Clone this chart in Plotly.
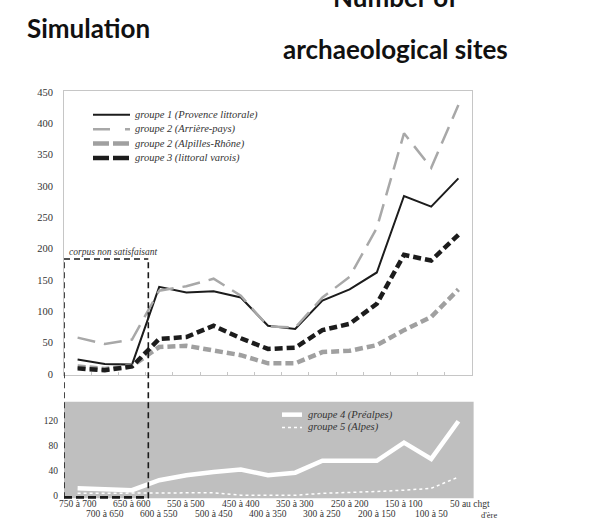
import plotly.graph_objects as go

# Periods (BC), from 750 BC down to the change of era
categories = ["750 à 700", "700 à 650", "650 à 600", "600 à 550", "550 à 500",
              "500 à 450", "450 à 400", "400 à 350", "350 à 300", "300 à 250",
              "250 à 200", "200 à 150", "150 à 100", "100 à 50", "50 au chgt d'ère"]

# Upper panel series
g1_provence = [23, 16, 15, 139, 130, 132, 122, 77, 72, 117, 135, 162, 284, 267, 312]
g2_arriere = [58, 48, 55, 133, 140, 152, 125, 76, 74, 122, 155, 233, 384, 329, 429]
g2_alpilles = [12, 8, 13, 43, 45, 38, 30, 17, 17, 35, 37, 46, 70, 91, 135]
g3_varois = [9, 6, 12, 56, 59, 77, 57, 40, 42, 70, 80, 112, 190, 181, 222]

# Lower panel series
g4_prealpes = [12, 10, 9, 25, 33, 38, 42, 33, 37, 56, 56, 56, 85, 59, 119]
g5_alpes = [4, 4, 4, 5, 5, 5, 1, 1, 1, 4, 5, 7, 9, 12, 30]

upper_ticks = [0, 50, 100, 150, 200, 250, 300, 350, 400, 450]
lower_ticks = [0, 40, 80, 120]

W, H = 602, 526
SERIF = "Liberation Serif"
TXT = "#333333"


def px(x):
    return x / W


def py(y):
    return 1 - y / H


xi = list(range(len(categories)))

upper_styles = [
    ("groupe 1 (Provence littorale)", g1_provence, "#1c1c1c", 2.0, "solid", "solid"),
    ("groupe 2 (Arrière-pays)", g2_arriere, "#a8a8a8", 2.5, "18px,9px", "17px,15px"),
    ("groupe 2 (Alpilles-Rhône)", g2_alpilles, "#a0a0a0", 4.5, "8px,4px", "16px,4px"),
    ("groupe 3 (littoral varois)", g3_varois, "#1c1c1c", 4.5, "8px,4px", "16px,4px"),
]
lower_styles = [
    ("groupe 4 (Préalpes)", g4_prealpes, "white", 4.5, "solid", "solid"),
    ("groupe 5 (Alpes)", g5_alpes, "white", 1.5, "3px,3px", "3px,3px"),
]

fig = go.Figure()
for name, vals, col, w, dash, _ in upper_styles:
    fig.add_trace(go.Scatter(x=xi, y=vals, mode="lines", name=name,
                             line=dict(color=col, width=w, dash=dash),
                             xaxis="x", yaxis="y", showlegend=False))
for name, vals, col, w, dash, _ in lower_styles:
    fig.add_trace(go.Scatter(x=xi, y=vals, mode="lines", name=name,
                             line=dict(color=col, width=w, dash=dash),
                             xaxis="x2", yaxis="y2", showlegend=False))

shapes = []
annotations = []

# Grey background of the lower panel
shapes.append(dict(type="rect", xref="x2 domain", yref="y2 domain",
                   x0=0, x1=1.004, y0=0, y1=1, fillcolor="#bfbfbf",
                   line=dict(width=0), layer="below"))

# "corpus non satisfaisant" dashed frame across both panels
box_left, box_right = -0.5, 2.6
box_top, box_bottom = py(259), py(502)
dash_box = dict(color="#1a1a1a", width=1.6, dash="6px,4px")
shapes += [
    dict(type="line", xref="x", yref="paper", x0=box_left, x1=box_left,
         y0=box_bottom, y1=box_top, line=dash_box),
    dict(type="line", xref="x", yref="paper", x0=box_right, x1=box_right,
         y0=box_bottom, y1=box_top, line=dash_box),
    dict(type="line", xref="x", yref="paper", x0=box_left, x1=box_right,
         y0=box_top, y1=box_top, line=dash_box),
    dict(type="line", xref="x", yref="paper", x0=box_left, x1=box_right,
         y0=py(501), y1=py(501), line=dict(color="#1a1a1a", width=2.6, dash="8px,4px")),
]
annotations.append(dict(text="corpus non satisfaisant", xref="paper", yref="paper",
                        x=px(67), y=py(252), xanchor="left", yanchor="middle",
                        showarrow=False,
                        font=dict(family=SERIF, size=9.5, color=TXT, style="italic")))

# Legend of the upper panel
for k, (name, _, col, w, _, ldash) in enumerate(upper_styles):
    yy = py(112.5 + 14.6 * k)
    shapes.append(dict(type="line", xref="paper", yref="paper",
                       x0=px(93), x1=px(130), y0=yy, y1=yy,
                       line=dict(color=col, width=w, dash=ldash)))
    annotations.append(dict(text=name, xref="paper", yref="paper", x=px(133), y=yy,
                            xanchor="left", yanchor="middle", showarrow=False,
                            font=dict(family=SERIF, size=10.5, color=TXT, style="italic")))

# Legend of the lower panel
for k, (name, _, col, w, _, ldash) in enumerate(lower_styles):
    yy = py(417 + 13 * k)
    shapes.append(dict(type="line", xref="paper", yref="paper",
                       x0=px(282), x1=px(302), y0=yy, y1=yy,
                       line=dict(color=col, width=w, dash=ldash)))
    annotations.append(dict(text=name, xref="paper", yref="paper", x=px(306), y=yy,
                            xanchor="left", yanchor="middle", showarrow=False,
                            font=dict(family=SERIF, size=10.5, color="#333333", style="italic")))

# Staggered period labels under the lower panel
for i, lab in enumerate(categories):
    row_y = py(508) if i % 2 == 0 else py(518)
    if i == len(categories) - 1:
        main, sub = lab.rsplit(" ", 1)
        annotations.append(dict(text=main, xref="x2", yref="paper", x=i, y=row_y,
                                xanchor="left", xshift=-10, yanchor="middle", showarrow=False,
                                font=dict(family=SERIF, size=9.5, color=TXT)))
        annotations.append(dict(text=sub, xref="x2", yref="paper", x=i, y=py(519),
                                xanchor="left", xshift=21, yanchor="middle", showarrow=False,
                                font=dict(family=SERIF, size=8.5, color=TXT)))
    else:
        annotations.append(dict(text=lab, xref="x2", yref="paper", x=i, y=row_y,
                                xanchor="center", yanchor="middle", showarrow=False,
                                font=dict(family=SERIF, size=9.5, color=TXT)))

# Headings
head_font = dict(family="Lato", size=26, color="#111111", weight="bold")
annotations += [
    dict(text="Simulation", xref="paper", yref="paper", x=px(88), y=py(24),
         xanchor="center", yanchor="middle", showarrow=False, font=head_font),
    dict(text="Number of", xref="paper", yref="paper", x=px(395), y=py(-7),
         xanchor="center", yanchor="middle", showarrow=False, font=head_font),
    dict(text="archaeological sites", xref="paper", yref="paper", x=px(395), y=py(46),
         xanchor="center", yanchor="middle", showarrow=False, font=head_font),
]

bounds = [i + 0.5 for i in range(-1, len(categories))]
xdom = [px(64), px(472)]

fig.update_layout(
    width=W, height=H,
    margin=dict(l=0, r=0, t=0, b=0),
    paper_bgcolor="white", plot_bgcolor="white",
    showlegend=False,
    xaxis=dict(domain=xdom, range=[-0.5, len(categories) - 0.5], anchor="y",
               showline=True, linecolor="#c6c6c6", linewidth=1, mirror=True,
               ticks="inside", tickvals=bounds, ticklen=3, tickcolor="#c6c6c6",
               showticklabels=False, showgrid=False, zeroline=False),
    yaxis=dict(domain=[py(377), py(88)], range=[-2, 452], anchor="x",
               showline=True, linecolor="#c6c6c6", linewidth=1, mirror=True,
               tickvals=upper_ticks, ticks="", ticklabelstandoff=8,
               tickfont=dict(family=SERIF, size=10.5, color=TXT),
               showgrid=False, zeroline=False),
    xaxis2=dict(domain=xdom, range=[-0.5, len(categories) - 0.5], anchor="y2",
                showline=False, showticklabels=False, ticks="",
                showgrid=False, zeroline=False),
    yaxis2=dict(domain=[py(502), py(404)], range=[-4, 150], anchor="x2",
                showline=False, tickvals=lower_ticks, ticks="", ticklabelstandoff=5,
                tickfont=dict(family=SERIF, size=9.5, color=TXT),
                showgrid=False, zeroline=False),
    shapes=shapes,
    annotations=annotations,
)

fig.write_html("out.html")
